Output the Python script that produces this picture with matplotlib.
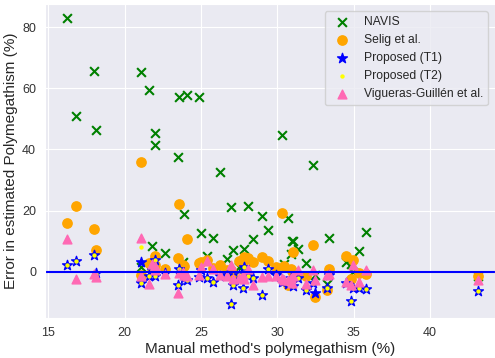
import numpy as np
import matplotlib.pyplot as plt
import seaborn as sns

sns.set_style('darkgrid')
plt.rcParams['font.family'] = ['Liberation Sans', 'DejaVu Sans']

# manual polymegathism per image (%)
manual = [16.2, 16.8, 18.0, 18.1, 21.05, 21.05, 21.6, 21.95, 21.97, 21.8,
          22.65, 23.5, 23.56, 23.9, 24.06, 23.8, 24.87, 25.02, 25.37, 25.76,
          26.24, 26.68, 26.96, 27.07, 27.5, 27.83, 27.77, 28.1, 28.4, 28.96,
          29.36, 29.9, 30.27, 30.4, 30.66, 30.95, 31.03, 30.86, 31.38, 31.84,
          32.34, 32.45, 33.35, 33.26, 34.5, 34.95, 34.85, 35.33, 35.83, 43.13]

# error of each method (%)
navis = [83.0, 51.0, 65.7, 46.5, 65.5, 1.4, 59.4, 45.5, 41.6, 8.3,
         6.1, 37.6, 57.2, 18.7, 57.8, 3.0, 57.2, 12.8, 5.0, 11.0,
         32.7, 4.1, 21.3, 7.0, 1.5, 7.4, 2.0, 21.5, 10.7, 18.3,
         13.7, 1.0, 44.6, 2.5, 17.7, 10.1, 10.1, 5.8, 7.3, 2.8,
         34.8, -1.0, 11.0, -4.0, 3.3, 0.0, 2.5, 6.6, 13.0, -1.5]
selig = [16.0, 21.4, 14.1, 7.0, 35.8, -1.0, 2.8, 5.0, 2.0, 1.0,
         0.9, 4.4, 22.3, 1.8, 10.6, 2.0, 2.8, 3.0, 3.8, 1.2,
         2.3, 0.5, 0.5, -1.0, 3.5, 4.7, 3.0, 4.3, 3.0, 4.9,
         3.6, 1.4, 19.3, 1.8, -4.5, 0.3, 6.5, 1.0, -1.0, -1.5,
         8.8, -8.3, 0.9, -6.0, 5.0, 3.9, -2.4, -0.5, -0.7, -1.5]
prop_t1 = [2.0, 3.6, 5.4, -0.5, 3.0, -3.7, -1.3, 3.9, -1.5, 0.5,
           -0.4, -4.3, 0.9, -2.0, -2.9, -1.0, -1.8, 0.5, -2.2, -3.3,
           -1.5, -1.0, -10.5, -4.5, -1.0, 1.4, -5.4, -1.5, -2.0, -7.8,
           0.9, -1.0, -3.5, -3.0, -4.0, -3.5, -4.8, -2.0, -2.2, -5.9,
           -3.7, -6.9, -1.0, -5.4, -3.7, -5.3, -9.6, -5.3, -5.6, -6.5]
prop_t2 = [2.0, 3.6, 5.4, -0.7, 8.1, -3.7, -1.3, 3.9, -1.5, 0.5,
           -0.4, -4.3, 0.9, -2.0, -2.9, -1.0, -1.8, 0.5, -2.2, -3.3,
           -1.5, -1.0, -10.5, -4.5, -1.0, 1.4, -5.4, -1.5, -2.0, -7.8,
           0.9, -1.0, -3.5, -3.0, -4.0, -3.5, -4.8, -2.0, -2.2, -5.9,
           -3.7, -3.0, -1.0, -5.4, -3.7, -5.3, -9.6, -5.3, -5.6, -6.5]
vigueras = [10.7, -2.4, -0.8, -1.8, 10.9, -1.5, -4.0, 1.8, 0.5, 2.5,
            -0.8, -7.0, -0.6, -1.0, -1.5, 0.0, -1.0, 1.6, 3.5, 0.8,
            -1.0, -1.5, 2.0, -2.5, -2.0, -2.5, -1.0, 0.9, -4.5, -1.8,
            -1.3, -1.3, -2.0, -2.9, -2.9, -3.7, -1.6, -2.0, 0.6, -4.0,
            0.6, -2.9, -0.7, -1.0, -3.5, 2.2, -4.3, -3.5, 0.4, -2.6]

fig, ax = plt.subplots(figsize=(4.95, 3.58), dpi=100)
fig.subplots_adjust(left=0.091, right=1.0, top=0.989, bottom=0.112)

ax.scatter(manual, navis, marker='x', color='green', s=40, linewidths=1.5, label='NAVIS')
ax.scatter(manual, selig, marker='o', color='orange', s=45, label='Selig et al.')
ax.scatter(manual, prop_t1, marker='*', color='blue', s=55, label='Proposed (T1)')
ax.scatter(manual, prop_t2, marker='o', color='yellow', s=10, linewidths=0, label='Proposed (T2)')
ax.scatter(manual, vigueras, marker='^', color='hotpink', s=40, label='Vigueras-Guillén et al.')
ax.axhline(0, color='blue', lw=1.5)

ax.set_xlim(14.78, 44.25)
ax.set_xticks([15, 20, 25, 30, 35, 40])
ax.tick_params(labelsize=9, colors='#333333', pad=3)
ax.set_xlabel("Manual method's polymegathism (%)", fontsize=11, color='#262626', labelpad=2)
ax.set_ylabel('Error in estimated Polymegathism (%)', fontsize=11, color='#262626', labelpad=3)
ax.legend(loc='upper right', fontsize=8.7, frameon=True, borderaxespad=0.6)

fig.savefig('out.png', dpi=100)
